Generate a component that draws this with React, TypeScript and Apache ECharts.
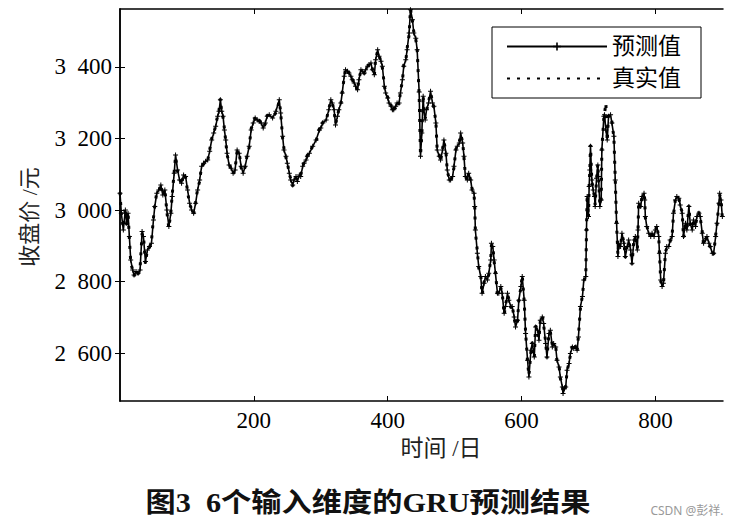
import React, { useEffect, useRef } from "react";
import * as echarts from "echarts";

const days = [
  0, 2, 5, 8, 10, 12, 14, 16, 19, 21,
  24, 27, 30, 33, 35, 38, 41, 44, 47, 50,
  52, 55, 58, 61, 64, 67, 70, 73, 76, 78,
  81, 83, 86, 89, 92, 95, 98, 101, 104, 107,
  110, 113, 116, 119, 122, 125, 128, 131, 134, 137,
  140, 143, 146, 148, 150, 152, 154, 156, 158, 160,
  163, 166, 169, 172, 175, 178, 181, 184, 187, 190,
  193, 196, 199, 202, 205, 208, 211, 214, 217, 220,
  223, 228, 233, 238, 240, 243, 245, 248, 250, 253,
  255, 258, 260, 263, 265, 268, 270, 273, 275, 278,
  280, 283, 288, 293, 298, 300, 303, 308, 312, 315,
  317, 320, 322, 325, 327, 330, 332, 335, 337, 340,
  342, 345, 347, 350, 352, 355, 357, 360, 362, 365,
  367, 370, 372, 375, 377, 380, 382, 385, 387, 390,
  392, 395, 397, 400, 402, 405, 407, 409, 412, 414,
  417, 419, 422, 424, 427, 429, 432, 434, 437, 439,
  442, 444, 447, 449, 451, 453, 454, 456, 458, 461,
  464, 467, 469, 472, 474, 477, 479, 482, 484, 487,
  489, 492, 494, 497, 499, 502, 504, 507, 509, 512,
  514, 516, 519, 521, 524, 526, 529, 530, 531, 534,
  536, 539, 541, 544, 546, 549, 551, 554, 555, 557,
  559, 561, 564, 566, 569, 571, 574, 576, 579, 581,
  584, 586, 589, 591, 594, 596, 599, 601, 604, 606,
  609, 611, 614, 616, 619, 621, 624, 626, 628, 631,
  633, 636, 638, 641, 643, 646, 648, 651, 653, 656,
  658, 661, 662, 664, 666, 668, 671, 673, 676, 678,
  681, 683, 685, 688, 691, 693, 696, 697, 698, 700,
  701, 702, 703, 705, 707, 709, 710, 712, 714, 715,
  717, 719, 720, 723, 724, 726, 728, 730, 733, 735,
  738, 740, 742, 744, 745, 748, 750, 753, 755, 758,
  760, 763, 765, 768, 770, 773, 774, 775, 778, 780,
  783, 784, 785, 787, 790, 793, 795, 798, 800, 802,
  805, 806, 808, 810, 812, 815, 817, 820, 822, 825,
  827, 830, 832, 835, 837, 840, 842, 845, 847, 850,
  852, 855, 857, 860, 862, 865, 867, 870, 872, 875,
  877, 880, 882, 885, 887, 890, 892, 895, 896, 898,
  900,
];

const predicted = [
  3047, 2991, 2944, 3000, 2963, 2991, 2926, 2860, 2832, 2818,
  2828, 2823, 2832, 2940, 2926, 2856, 2888, 2898, 2907, 2972,
  3010, 3047, 3056, 3070, 3042, 3056, 3000, 2954, 2991, 3038,
  3103, 3154, 3112, 3084, 3075, 3098, 3094, 3056, 3019, 3000,
  2991, 3019, 3056, 3084, 3122, 3131, 3136, 3140, 3164, 3196,
  3215, 3234, 3262, 3276, 3308, 3276, 3262, 3224, 3196, 3159,
  3126, 3117, 3103, 3112, 3168, 3159, 3122, 3103, 3122, 3150,
  3178, 3224, 3243, 3257, 3252, 3248, 3243, 3229, 3243, 3262,
  3266, 3257, 3276, 3308, 3271, 3206, 3168, 3150, 3131, 3103,
  3084, 3070, 3084, 3094, 3080, 3098, 3094, 3122, 3131, 3140,
  3150, 3159, 3178, 3196, 3224, 3229, 3243, 3252, 3280, 3308,
  3299, 3280, 3238, 3262, 3280, 3299, 3327, 3374, 3392, 3388,
  3383, 3374, 3364, 3355, 3346, 3336, 3364, 3392, 3388, 3383,
  3392, 3402, 3406, 3411, 3392, 3378, 3420, 3448, 3430, 3416,
  3402, 3346, 3327, 3313, 3299, 3290, 3280, 3280, 3290, 3299,
  3299, 3327, 3364, 3402, 3420, 3448, 3495, 3560, 3532, 3495,
  3480, 3448, 3330, 3150, 3215, 3318, 3280, 3252, 3280, 3299,
  3332, 3299, 3290, 3243, 3168, 3150, 3140, 3168, 3196, 3159,
  3112, 3084, 3084, 3094, 3122, 3168, 3178, 3187, 3215, 3187,
  3150, 3094, 3084, 3103, 3084, 3056, 3047, 3010, 2944, 2879,
  2842, 2814, 2767, 2795, 2814, 2804, 2823, 2860, 2907, 2898,
  2860, 2823, 2767, 2767, 2786, 2767, 2711, 2730, 2767, 2748,
  2730, 2730, 2701, 2673, 2692, 2748, 2786, 2814, 2748, 2655,
  2580, 2533, 2608, 2627, 2589, 2673, 2664, 2636, 2692, 2701,
  2683, 2627, 2589, 2655, 2664, 2617, 2627, 2617, 2580, 2561,
  2533, 2505, 2487, 2500, 2505, 2552, 2571, 2599, 2617, 2613,
  2617, 2608, 2645, 2730, 2758, 2804, 2814, 2944, 3038, 2982,
  3066, 3112, 3178, 3084, 3056, 3038, 3010, 3089, 3126, 3094,
  3010, 3028, 3168, 3262, 3266, 3224, 3196, 3262, 3266, 3243,
  3206, 3084, 2963, 2870, 2907, 2898, 2935, 2907, 2870, 2898,
  2916, 2888, 2851, 2916, 2926, 2888, 2944, 3019, 3010, 3038,
  3047, 3028, 2982, 2954, 2935, 2926, 2935, 2926, 2944, 2954,
  2926, 2879, 2804, 2786, 2795, 2879, 2898, 2898, 2916, 2926,
  2991, 3028, 3038, 3033, 3014, 2991, 2926, 2963, 2944, 3010,
  2963, 2944, 2972, 2954, 2982, 2991, 2982, 2935, 2907, 2916,
  2926, 2907, 2898, 2879, 2879, 2926, 2963, 3019, 3047, 3028,
  2982,
];

const actual = [
  3050, 2985, 2950, 3005, 2958, 2995, 2920, 2855, 2830, 2815,
  2830, 2820, 2838, 2935, 2930, 2850, 2892, 2895, 2912, 2978,
  3012, 3050, 3052, 3072, 3040, 3060, 2995, 2950, 2995, 3042,
  3108, 3150, 3108, 3088, 3070, 3102, 3090, 3052, 3015, 3004,
  2988, 3022, 3060, 3080, 3126, 3128, 3140, 3138, 3168, 3200,
  3212, 3238, 3265, 3280, 3312, 3272, 3258, 3228, 3192, 3155,
  3130, 3114, 3100, 3116, 3165, 3162, 3118, 3106, 3120, 3154,
  3175, 3228, 3240, 3260, 3248, 3252, 3240, 3232, 3240, 3266,
  3262, 3260, 3272, 3304, 3275, 3200, 3172, 3146, 3135, 3100,
  3088, 3066, 3088, 3090, 3084, 3094, 3098, 3118, 3135, 3136,
  3154, 3155, 3182, 3192, 3228, 3225, 3246, 3248, 3284, 3304,
  3302, 3276, 3242, 3258, 3284, 3296, 3330, 3370, 3396, 3384,
  3386, 3370, 3368, 3350, 3350, 3332, 3368, 3388, 3392, 3380,
  3396, 3398, 3410, 3408, 3396, 3374, 3424, 3444, 3434, 3412,
  3398, 3350, 3323, 3316, 3295, 3294, 3276, 3284, 3286, 3303,
  3295, 3331, 3360, 3406, 3416, 3452, 3490, 3562, 3528, 3498,
  3476, 3452, 3320, 3152, 3210, 3322, 3276, 3256, 3276, 3303,
  3328, 3303, 3286, 3247, 3164, 3154, 3136, 3172, 3192, 3163,
  3108, 3088, 3080, 3098, 3118, 3172, 3174, 3191, 3211, 3191,
  3146, 3098, 3080, 3107, 3080, 3060, 3043, 3014, 2940, 2883,
  2838, 2818, 2763, 2799, 2810, 2808, 2819, 2864, 2903, 2902,
  2856, 2827, 2763, 2771, 2782, 2771, 2707, 2734, 2763, 2752,
  2726, 2734, 2697, 2677, 2688, 2752, 2782, 2818, 2744, 2659,
  2576, 2537, 2604, 2631, 2585, 2677, 2660, 2640, 2688, 2705,
  2679, 2631, 2585, 2659, 2660, 2621, 2623, 2621, 2576, 2565,
  2529, 2509, 2490, 2496, 2509, 2548, 2575, 2595, 2621, 2609,
  2621, 2604, 2649, 2726, 2762, 2800, 2818, 2940, 3042, 2978,
  3070, 3108, 3182, 3080, 3060, 3034, 3014, 3085, 3130, 3090,
  3014, 3024, 3172, 3258, 3270, 3299, 3192, 3266, 3262, 3247,
  3202, 3088, 2959, 2874, 2903, 2902, 2931, 2911, 2866, 2902,
  2912, 2892, 2847, 2920, 2922, 2892, 2940, 3023, 3006, 3042,
  3043, 3032, 2978, 2958, 2931, 2930, 2931, 2930, 2940, 2958,
  2922, 2883, 2800, 2790, 2791, 2883, 2894, 2902, 2912, 2930,
  2987, 3032, 3034, 3037, 3010, 2995, 2922, 2967, 2940, 3014,
  2959, 2948, 2968, 2958, 2978, 2995, 2978, 2939, 2903, 2920,
  2922, 2911, 2894, 2883, 2875, 2930, 2959, 3023, 3043, 3032,
  2978,
];

const xTicks = [200, 400, 600, 800];
const yTicks = [2600, 2800, 3000, 3200, 3400];
const seriesNames = ["预测值", "真实值"];

const SERIF = "'Liberation Serif', 'Noto Sans CJK SC', serif";
const CJK = "'Liberation Serif', 'Noto Sans CJK SC', sans-serif";

const fmtY = (v: number) => String(v).replace(/^(\d)(\d{3})$/, "$1\u2002$2");

export default function App() {
  const ref = useRef<HTMLDivElement>(null);
  useEffect(() => {
    const chart = echarts.init(ref.current!, null, { renderer: "svg" });
    const predData = days.map((d, i) => [d, predicted[i]]);
    const actData = days.map((d, i) => [d, actual[i]]);
    const axisLine = { show: true, lineStyle: { color: "#000", width: 1.5 } };
    chart.setOption({
      animation: false,
      backgroundColor: "#fff",
      grid: { left: 120, right: 18, top: 9, bottom: 127, show: false },
      legend: {
        orient: "vertical",
        left: 492,
        top: 27,
        itemWidth: 100,
        itemHeight: 10,
        itemGap: 9,
        padding: [8, 20, 8, 14],
        borderColor: "#000",
        borderWidth: 1,
        data: [
          { name: seriesNames[0] },
          { name: seriesNames[1], itemStyle: { opacity: 0 } },
        ],
        textStyle: { fontSize: 23, fontFamily: CJK, color: "#000" },
      },
      xAxis: [
        {
          type: "value",
          min: 0,
          max: 901,
          position: "bottom",
          axisLine,
          axisTick: { show: true, inside: true, length: 5, customValues: xTicks, lineStyle: { color: "#000", width: 1 } },
          axisLabel: { customValues: xTicks, color: "#000", fontSize: 23, fontFamily: SERIF, margin: 8 },
          splitLine: { show: false },
        },
        {
          type: "value",
          min: 0,
          max: 901,
          position: "top",
          axisLine,
          axisTick: { show: true, inside: true, length: 5, customValues: xTicks, lineStyle: { color: "#000", width: 1 } },
          axisLabel: { show: false },
          splitLine: { show: false },
        },
      ],
      yAxis: [
        {
          type: "value",
          min: 2466,
          max: 3562,
          position: "left",
          axisLine,
          axisTick: { show: true, inside: true, length: 5, customValues: yTicks, lineStyle: { color: "#000", width: 1 } },
          axisLabel: { customValues: yTicks, color: "#000", fontSize: 23, fontFamily: SERIF, margin: 8, formatter: fmtY },
          splitLine: { show: false },
        },
        {
          type: "value",
          min: 2466,
          max: 3562,
          position: "right",
          axisLine,
          axisTick: { show: true, inside: true, length: 5, customValues: yTicks, lineStyle: { color: "#000", width: 1 } },
          axisLabel: { show: false },
          splitLine: { show: false },
        },
      ],
      series: [
        {
          name: seriesNames[1],
          type: "line",
          data: actData,
          symbol: "none",
          lineStyle: { color: "#000", width: 3, type: [3, 7] },
          itemStyle: { color: "#000" },
          z: 2,
        },
        {
          name: seriesNames[0],
          type: "line",
          data: predData,
          symbol: "path://M4,0H6V4H10V6H6V10H4V6H0V4H4Z",
          symbolSize: 5,
          lineStyle: { color: "#000", width: 1.6 },
          itemStyle: { color: "#000" },
          z: 3,
        },
      ],
      graphic: [
        {
          type: "text",
          x: 29,
          y: 217,
          rotation: Math.PI / 2,
          style: { text: "收盘价 /元", font: `22px ${CJK}`, fill: "#222", align: "center", verticalAlign: "middle" },
        },
        {
          type: "text",
          x: 441,
          y: 448,
          style: { text: "时间 /日", font: `23px ${CJK}`, fill: "#222", align: "center", verticalAlign: "middle" },
        },
        {
          type: "text",
          x: 368,
          y: 503,
          scaleX: 1.12,
          style: { text: "图3  6个输入维度的GRU预测结果", font: `bold 27px ${CJK}`, fill: "#111", align: "center", verticalAlign: "middle" },
        },
        {
          type: "text",
          x: 687,
          y: 510,
          style: { text: "CSDN @彭祥.", font: "12px 'Noto Sans', 'Noto Sans CJK SC', sans-serif", fill: "#999", align: "center", verticalAlign: "middle" },
        },
      ],
    });
    return () => chart.dispose();
  }, []);
  return (
    <div
      ref={ref}
      style={{ position: "fixed", left: 0, top: 0, width: 741, height: 528, background: "#fff" }}
    />
  );
}
